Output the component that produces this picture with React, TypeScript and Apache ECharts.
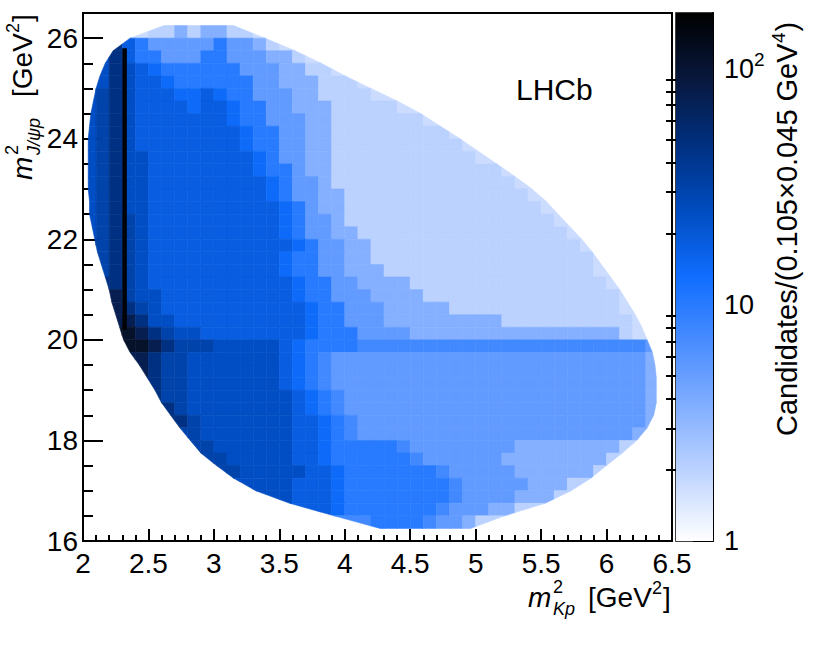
import React, { useEffect, useRef } from "react";
import * as echarts from "echarts";

const FONT = '"Liberation Sans", Arial, Helvetica, sans-serif';

// ---- axes ----
const X_MIN = 2;
const X_MAX = 6.5;
const X_INTERVAL = 0.5;
const Y_MIN = 16;
const Y_MAX = 26.5;
const Y_MAJOR_TICKS = [16, 18, 20, 22, 24, 26];
const Y_MINOR_TICKS = [16.5, 17, 17.5, 18.5, 19, 19.5, 20.5, 21, 21.5, 22.5, 23, 23.5, 24.5, 25, 25.5];

// ---- colour scale (log) ----
const Z_MAX = 172;
const Z_MAJOR_TICKS = [1, 10, 100];
const Z_MINOR_TICKS = [2, 3, 4, 5, 6, 7, 8, 9, 20, 30, 40, 50, 60, 70, 80, 90];
const Z_COLORS = ["#ffffff", "#c0d5ff", "#84b0ff", "#4a8dff", "#106eff", "#004cc0", "#003080", "#08183d", "#000000"];

// ---- Dalitz boundary read at row edges (top to bottom) ----
const EDGE_Y = [
  26.25, 26.0, 25.75, 25.5, 25.25, 25.0, 24.75, 24.5, 24.25, 24.0,
  23.75, 23.5, 23.25, 23.0, 22.75, 22.5, 22.25, 22.0, 21.75, 21.5,
  21.25, 21.0, 20.75, 20.5, 20.25, 20.0, 19.75, 19.5, 19.25, 19.0,
  18.75, 18.5, 18.25, 18.0, 17.75, 17.5, 17.25, 17.0, 16.75, 16.5, 16.25,
];
const EDGE_LEFT = [
  2.62, 2.36, 2.23, 2.17, 2.13, 2.10, 2.08, 2.06, 2.05, 2.04,
  2.04, 2.04, 2.04, 2.04, 2.05, 2.05, 2.07, 2.09, 2.11, 2.14,
  2.17, 2.20, 2.22, 2.25, 2.28, 2.31, 2.36, 2.43, 2.49, 2.55,
  2.60, 2.67, 2.74, 2.82, 2.90, 3.02, 3.15, 3.32, 3.58, 3.92, 4.27,
];
const EDGE_RIGHT = [
  3.15, 3.39, 3.62, 3.82, 4.00, 4.20, 4.40, 4.58, 4.73, 4.88,
  5.02, 5.16, 5.30, 5.43, 5.54, 5.63, 5.72, 5.81, 5.89, 5.96,
  6.03, 6.10, 6.16, 6.22, 6.27, 6.31, 6.35, 6.37, 6.38, 6.38,
  6.38, 6.36, 6.31, 6.23, 6.12, 6.00, 5.88, 5.73, 5.53, 5.22, 4.96,
];

// ---- histogram levels: one row per 0.25 band (top to bottom), 0.1-wide bins ----
const BIN_X_START = 2.0;
const BIN_WIDTH = 0.1;
const ROW_FIRST_BIN = [
  4, 2, 1, 1, 1, 0, 0, 0, 0, 0,
  0, 0, 0, 0, 0, 0, 0, 1, 1, 1,
  2, 2, 2, 2, 3, 3, 4, 4, 5, 5,
  6, 7, 7, 8, 9, 11, 12, 14, 17, 21,
];
const ROW_RUNS = [
  "2 3 3 4 3 4 4 3 3 2",
  "a 7 6 5*5 6 5 5 4 3 2",
  "8 a 7 6 6 5*3 6 6 5*3 4 4 3 2",
  "8 a 8 7 f 6*6 5*3 4 4 3 3 2",
  "8 a 8 7 7 f 6*6 5 5 4*3 3*3 2",
  "8 9 a 8 7*3 f f 7 f 6 6 5*3 4 4 3*4 2 2",
  "8 9 a 8 7*4 f 7 7 f 6 6 5 5 4*3 3*5 2",
  "8 9 a 8 7*7 f 6 6 5*3 4 4 3*7 2",
  "8 9 a 8 7*8 f 6 6 5 5 4 4 3*9 2",
  "8 9 a 8 7*8 f 6 6 5 5 4 4 3*10 2",
  "8 9 a 8 8 7*8 f 6 5 5 4 4 3*11 2",
  "8 9 a 8 8 7*8 f 6 6 5 4 4 3*13 2",
  "8 9 a 8 8 7*9 f 6 5 5 4 3*14 2",
  "8 9 a 8 8 7*9 f 6 5 5 4 4 3*14 2",
  "8 9 a 8 8 7*10 f 6 5 4 4 3*15 2",
  "8 9 a 9 8 7*10 f 6 5 5 4 3*16 2",
  "8 9 a 9 8 7*10 f 6 5 5 4 4 3*16 2",
  "9 a 9 8 7*11 f 6 5 5 4 4 3*16 2",
  "9 a 9 8 7*10 f 6 6 5 5 4 4 3*17 2",
  "9 a 9 8 7*10 f 6 6 5 5 4*3 3*16 2",
  "a 9 8 7*11 f 6 6 5 5 4*4 3*15 2",
  "b 9 8 8 7*10 f 6 6 5*3 4*4 3*15 2",
  "b a 9 8 7*11 f 6 6 5*3 4*5 3*13 2",
  "b b a 8 8 7*10 f 6 6 5*3 4*9 3*10 2",
  "c b a 9 8 8 7*8 f 6*3 5*4 4*16 3 2",
  "c c b a 9 9 9 8*5 7 f 6*4 e*22 5",
  "b a 9 9 8*7 7 f 6 e 5*24 4",
  "b a 9 9 8*7 7 f 6 e 5*24 4",
  "a 9 9 8*7 7 f 6 e 5*24 4",
  "a 9 9 8*8 7 f 6 e 5*23 4",
  "a 9 8*8 7 f 6 e 5*23 4",
  "a 9 8*7 7 7 f 6 e 5*22 4",
  "9 9 8*7 7 7 f 6 e 5*21 4",
  "9 9 8*6 7 7 f 6*5 e 5*8 4*8 3",
  "9 9 8*5 7 7 f 6*6 e 5*6 4*8 3",
  "9 8*5 7 7 f 6*7 e 5*5 4*6 3",
  "8*4 7*3 f 6*8 e 5*5 4*3 3",
  "8 8 7*3 f 6*8 e 5*4 4*3 3",
  "7 7 f 6*7 e 5*3 4 4 3",
  "e 6*4 e 5 5 4 3",
];
const LEVEL_CODES = "123456789abcdef";
const LEVEL_COUNTS = [1.4, 1.7, 2.0, 3.6, 5.3, 10, 18, 24, 31, 47, 75, 110, 160, 7.5, 14];

// narrow Lambda(1520) band
const LAMBDA_BAND_X = [2.3, 2.335];
const LAMBDA_BAND_Y = [20.2, 25.8];
const LAMBDA_BAND_COUNT = 160;

const Z_LOG_MAX = Math.log10(Z_MAX);

type Pt = number[];
function clipHalf(poly: Pt[], f: (p: Pt) => number): Pt[] {
  const out: Pt[] = [];
  for (let i = 0; i < poly.length; i++) {
    const p = poly[i];
    const q = poly[(i + 1) % poly.length];
    const fp = f(p);
    const fq = f(q);
    if (fp >= 0) out.push(p);
    if ((fp >= 0) !== (fq >= 0)) {
      const t = fp / (fp - fq);
      out.push([p[0] + t * (q[0] - p[0]), p[1] + t * (q[1] - p[1])]);
    }
  }
  return out;
}

function buildCells() {
  const cells: number[][] = [];
  const polys: Pt[][] = [];
  ROW_RUNS.forEach((runs, i) => {
    const codes: string[] = [];
    runs.split(" ").forEach((tok) => {
      const [ch, n] = tok.split("*");
      const k = n ? parseInt(n, 10) : 1;
      for (let j = 0; j < k; j++) codes.push(ch);
    });
    const y1 = EDGE_Y[i];
    const y0 = EDGE_Y[i + 1];
    const lt = EDGE_LEFT[i], lb = EDGE_LEFT[i + 1];
    const rt = EDGE_RIGHT[i], rb = EDGE_RIGHT[i + 1];
    const leftAt = (y: number) => lb + ((lt - lb) * (y - y0)) / (y1 - y0);
    const rightAt = (y: number) => rb + ((rt - rb) * (y - y0)) / (y1 - y0);
    const colMin = Math.floor((Math.min(lt, lb) - BIN_X_START) / BIN_WIDTH + 1e-6);
    const colMax = Math.floor((Math.max(rt, rb) - BIN_X_START) / BIN_WIDTH - 1e-6);
    for (let col = colMin; col <= colMax; col++) {
      const k = Math.min(Math.max(col - ROW_FIRST_BIN[i], 0), codes.length - 1);
      const count = LEVEL_COUNTS[LEVEL_CODES.indexOf(codes[k])];
      const x0 = BIN_X_START + col * BIN_WIDTH;
      const x1 = x0 + BIN_WIDTH;
      let poly: Pt[] = [[x0, y0], [x1, y0], [x1, y1], [x0, y1]];
      poly = clipHalf(poly, (p) => p[0] - leftAt(p[1]));
      if (poly.length < 3) continue;
      poly = clipHalf(poly, (p) => rightAt(p[1]) - p[0]);
      if (poly.length < 3) continue;
      cells.push([x0, x1, y0, y1, count, Math.log10(count)]);
      polys.push(poly);
    }
  });
  return { cells, polys };
}

const txt = (x: number, y: number, text: string, size: number, italic = false) => ({
  type: "text",
  x,
  y,
  silent: true,
  style: {
    text,
    fontSize: size,
    fontFamily: FONT,
    fontStyle: italic ? "italic" : "normal",
    fill: "#000",
    align: "left",
    verticalAlign: "middle",
    textAlign: "left",
    textVerticalAlign: "middle",
  },
});

const tickLine = { color: "#000", width: 2 };

function buildOption() {
  const { cells, polys } = buildCells();
  const lambdaCells = [[
    LAMBDA_BAND_X[0], LAMBDA_BAND_X[1], LAMBDA_BAND_Y[0], LAMBDA_BAND_Y[1],
    LAMBDA_BAND_COUNT, Math.log10(LAMBDA_BAND_COUNT),
  ]];
  const stops = Z_COLORS.map((c, i) => ({ offset: i / (Z_COLORS.length - 1), color: c }));
  const rectRender = (_p: any, api: any) => {
    const a = api.coord([api.value(0), api.value(3)]);
    const b = api.coord([api.value(1), api.value(2)]);
    return {
      type: "rect",
      shape: { x: a[0], y: a[1], width: b[0] - a[0], height: b[1] - a[1] },
      style: { fill: api.visual("color") },
    };
  };
  return {
    animation: false,
    backgroundColor: "#ffffff",
    textStyle: { fontFamily: FONT },
    grid: [
      { left: 83, top: 13, width: 589, height: 528, show: true, borderColor: "#000", borderWidth: 2, backgroundColor: "transparent", outerBoundsMode: "none" },
      { left: 676, top: 13, width: 37, height: 528, show: true, borderColor: "#000", borderWidth: 1.5, backgroundColor: "transparent", outerBoundsMode: "none" },
    ],
    xAxis: [
      {
        gridIndex: 0, type: "value", min: X_MIN, max: X_MAX, interval: X_INTERVAL,
        axisLine: { show: true, onZero: false, lineStyle: tickLine },
        axisTick: { show: true, inside: true, length: 12, lineStyle: tickLine },
        minorTick: { show: true, splitNumber: 5, length: 6, lineStyle: tickLine },
        axisLabel: { color: "#000", fontSize: 28, fontFamily: FONT, margin: 8 },
        splitLine: { show: false }, minorSplitLine: { show: false },
      },
      { gridIndex: 1, type: "value", min: 0, max: 1, show: false },
    ],
    yAxis: [
      {
        gridIndex: 0, type: "value", position: "left", min: Y_MIN, max: Y_MAX,
        axisLine: { show: true, onZero: false, lineStyle: tickLine },
        axisTick: { show: true, inside: true, length: 20, lineStyle: tickLine, customValues: Y_MAJOR_TICKS },
        axisLabel: { color: "#000", fontSize: 28, fontFamily: FONT, margin: 5, customValues: Y_MAJOR_TICKS },
        splitLine: { show: false },
      },
      {
        gridIndex: 0, type: "value", position: "left", offset: 0, min: Y_MIN, max: Y_MAX,
        axisLine: { show: false },
        axisTick: { show: true, inside: true, length: 10, lineStyle: tickLine, customValues: Y_MINOR_TICKS },
        axisLabel: { show: false },
        splitLine: { show: false },
      },
      {
        gridIndex: 1, type: "value", position: "right", min: 0, max: Z_LOG_MAX,
        axisLine: { show: true, onZero: false, lineStyle: tickLine },
        axisTick: { show: true, inside: true, length: 20, lineStyle: tickLine, customValues: Z_MAJOR_TICKS.map((v) => Math.log10(v)) },
        axisLabel: {
          color: "#000", margin: 11,
          customValues: Z_MAJOR_TICKS.map((v) => Math.log10(v)),
          formatter: (v: number) => {
            const e = Math.round(v);
            return e === 0 ? "{b|1}" : e === 1 ? "{b|10}" : `{b|10}{s|${e}}`;
          },
          rich: {
            b: { fontSize: 27, fontFamily: FONT, color: "#000" },
            s: { fontSize: 19, fontFamily: FONT, color: "#000", padding: [0, 0, 18, 0] },
          },
        },
        splitLine: { show: false },
      },
      {
        gridIndex: 1, type: "value", position: "right", offset: 0, min: 0, max: Z_LOG_MAX,
        axisLine: { show: false },
        axisTick: { show: true, inside: true, length: 10, lineStyle: tickLine, customValues: Z_MINOR_TICKS.map((v) => Math.log10(v)) },
        axisLabel: { show: false },
        splitLine: { show: false },
      },
    ],
    visualMap: {
      type: "continuous", show: false, min: 0, max: Z_LOG_MAX, dimension: 5,
      seriesIndex: [0, 1], inRange: { color: Z_COLORS },
    },
    series: [
      {
        type: "custom", xAxisIndex: 0, yAxisIndex: 0, silent: true,
        encode: { x: [0, 1], y: [2, 3] },
        data: cells,
        renderItem: (params: any, api: any) => {
          const poly = polys[params.dataIndex];
          const color = api.visual("color");
          return {
            type: "polygon",
            shape: { points: poly.map((p) => api.coord(p)) },
            style: { fill: color, stroke: color, lineWidth: 0.6 },
          };
        },
        z: 2,
      },
      {
        type: "custom", xAxisIndex: 0, yAxisIndex: 0, silent: true,
        encode: { x: [0, 1], y: [2, 3] },
        data: lambdaCells, renderItem: rectRender, z: 3,
      },
      {
        type: "custom", xAxisIndex: 1, yAxisIndex: 2, silent: true,
        encode: { x: [0, 1], y: [2, 3] },
        data: [[0, 1, 0, Z_LOG_MAX]],
        renderItem: (_p: any, api: any) => {
          const a = api.coord([api.value(0), api.value(3)]);
          const b = api.coord([api.value(1), api.value(2)]);
          return {
            type: "rect",
            shape: { x: a[0], y: a[1], width: b[0] - a[0], height: b[1] - a[1] },
            style: { fill: new echarts.graphic.LinearGradient(0, 1, 0, 0, stops) },
          };
        },
        z: 1,
      },
    ],
    graphic: [
      txt(516, 89.5, "LHCb", 30),
      {
        type: "group", x: 528, y: 607, silent: true,
        children: [
          txt(0, -9.7, "m", 28, true),
          txt(25, -20, "2", 18),
          txt(25, 2, "Kp", 18, true),
          txt(60, -9.7, "[GeV", 28),
          txt(124, -19, "2", 18),
          txt(135, -9.7, "]", 28),
        ],
      },
      {
        type: "group", x: 32, y: 180, rotation: Math.PI / 2, silent: true,
        children: [
          txt(0, -9.7, "m", 28, true),
          txt(25, -20, "2", 18),
          txt(25, 2, "J/\u03c8p", 18, true),
          txt(83, -9.7, "[GeV", 28),
          txt(147, -19, "2", 18),
          txt(158, -9.7, "]", 28),
        ],
      },
      {
        type: "group", x: 797, y: 436, rotation: Math.PI / 2, silent: true,
        children: [
          txt(0, -10, "Candidates/(0.105\u00d70.045 GeV", 29),
          txt(393, -19, "4", 19),
          txt(404.5, -10, ")", 29),
        ],
      },
    ],
  };
}

export default function App() {
  const ref = useRef<HTMLDivElement>(null);
  useEffect(() => {
    document.body.style.margin = "0";
    const chart = echarts.init(ref.current as HTMLDivElement, undefined, { renderer: "svg" });
    chart.setOption(buildOption() as any);
    return () => chart.dispose();
  }, []);
  return <div ref={ref} style={{ width: 830, height: 645 }} />;
}
